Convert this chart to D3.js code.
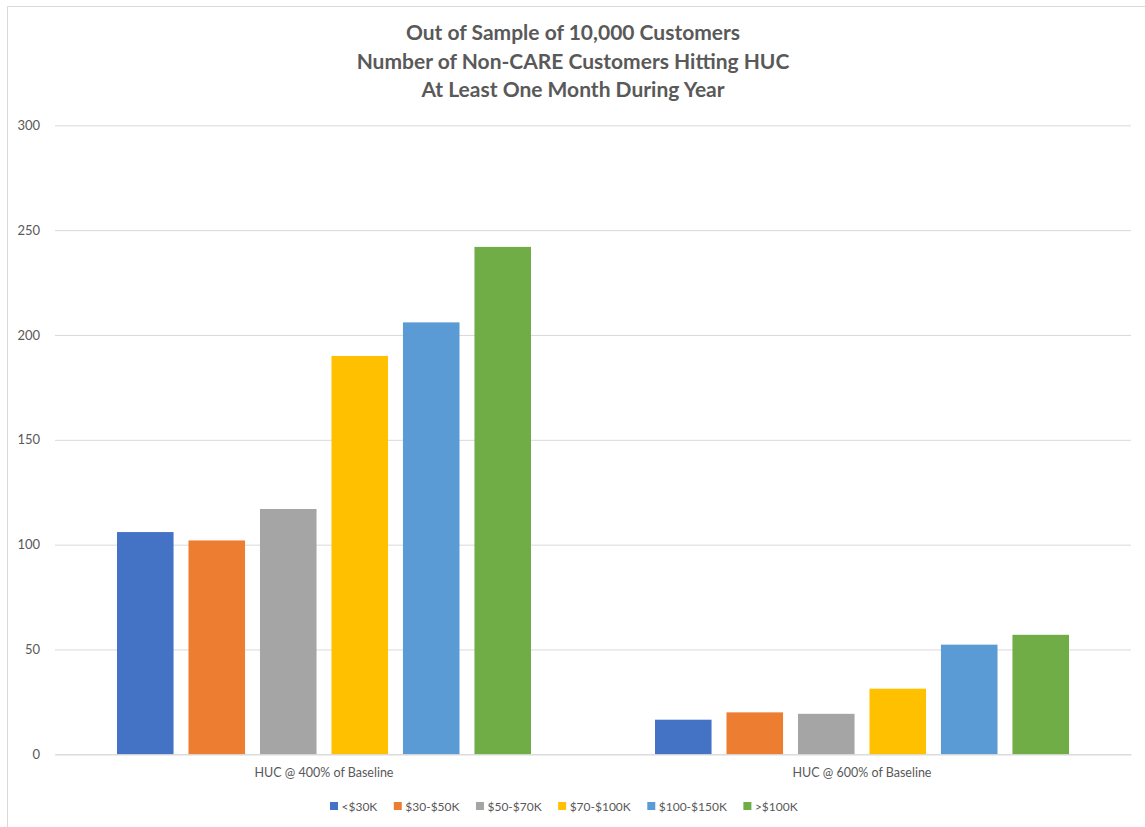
<!DOCTYPE html>
<html><head><meta charset="utf-8">
<script src="https://cdn.jsdelivr.net/npm/d3@7"></script>
<style>
html,body{margin:0;padding:0;background:#fff;}
svg{display:block;font-family:Lato,"Open Sans",sans-serif;}
</style></head>
<body><svg id="chart" width="1145" height="827"></svg>
<script>
const titleLines = ["Out of Sample of 10,000 Customers","Number of Non-CARE Customers Hitting HUC","At Least One Month During Year"];
const categories = ["HUC @ 400% of Baseline","HUC @ 600% of Baseline"];
const seriesNames = ["<$30K","$30-$50K","$50-$70K","$70-$100K","$100-$150K",">$100K"];
const seriesColors = ["#4472C4","#ED7D31","#A5A5A5","#FFC000","#5B9BD5","#70AD47"];
const valuesHUC400 = [106,102,117,190,206,242];
const valuesHUC600 = [16.5,20,19.3,31.3,52.3,57];
const yTicks = [0,50,100,150,200,250,300];

const seriesValues = [valuesHUC400, valuesHUC600];
const svg = d3.select("#chart");
const M = {left:55, right:1131, top:125.3, bottom:754.3};
const txt = "#595959";

// chart border (cropped)
svg.append("path").attr("d","M7.5,827 L7.5,6.5 L1145,6.5").attr("fill","none").attr("stroke","#D9D9D9").attr("stroke-width",1);

// title
svg.append("g").selectAll("text").data(titleLines).join("text")
  .attr("x",573).attr("y",(d,i)=>40+i*28.5)
  .attr("text-anchor","middle").attr("font-weight","bold").attr("font-size",21)
  .attr("fill",txt).text(d=>d);

const y = d3.scaleLinear().domain([0,300]).range([M.bottom,M.top]);
const x0 = d3.scaleBand().domain(categories).range([M.left,M.right]).padding(0);
const x1 = d3.scaleBand().domain(seriesNames)
  .range([62, x0.bandwidth()-62]).paddingInner(0.209).paddingOuter(0);

// gridlines
const yAxis = d3.axisLeft(y).tickValues(yTicks).tickSize(-(M.right-M.left)).tickPadding(15);
const ga = svg.append("g").attr("transform",`translate(${M.left},0)`).call(yAxis);
ga.select(".domain").remove();
ga.selectAll(".tick line").attr("stroke","#D9D9D9").attr("stroke-width",1);
ga.selectAll(".tick text").attr("fill",txt).attr("font-size",13).attr("font-family","Lato,sans-serif");

// bars
const groups = svg.append("g").selectAll("g").data(categories).join("g")
  .attr("transform",d=>`translate(${x0(d)},0)`);
groups.selectAll("rect").data((d,i)=>seriesValues[i].map((v,j)=>({s:seriesNames[j],v,c:seriesColors[j]})))
  .join("rect")
  .attr("x",d=>x1(d.s)).attr("width",x1.bandwidth())
  .attr("y",d=>y(d.v)).attr("height",d=>y(0)-y(d.v))
  .attr("fill",d=>d.c);

// x labels
const xAxis = d3.axisBottom(x0).tickSize(0).tickPadding(14);
const gx = svg.append("g").attr("transform",`translate(0,${M.bottom})`).call(xAxis);
gx.select(".domain").attr("stroke","#D9D9D9").attr("stroke-width",1);
gx.selectAll(".tick text").attr("fill",txt).attr("font-size",12.5).attr("font-family","Lato,sans-serif");

// legend
const legend = svg.append("g");
let lx = 330;
seriesNames.forEach((s,i)=>{
  legend.append("rect").attr("x",lx).attr("y",802).attr("width",8).attr("height",8).attr("fill",seriesColors[i]);
  const t = legend.append("text").attr("x",lx+11.5).attr("y",810.5).attr("font-size",12).attr("fill",txt).text(s);
  lx += 11.5 + t.node().getComputedTextLength() + 16.5;
});
</script></body></html>
